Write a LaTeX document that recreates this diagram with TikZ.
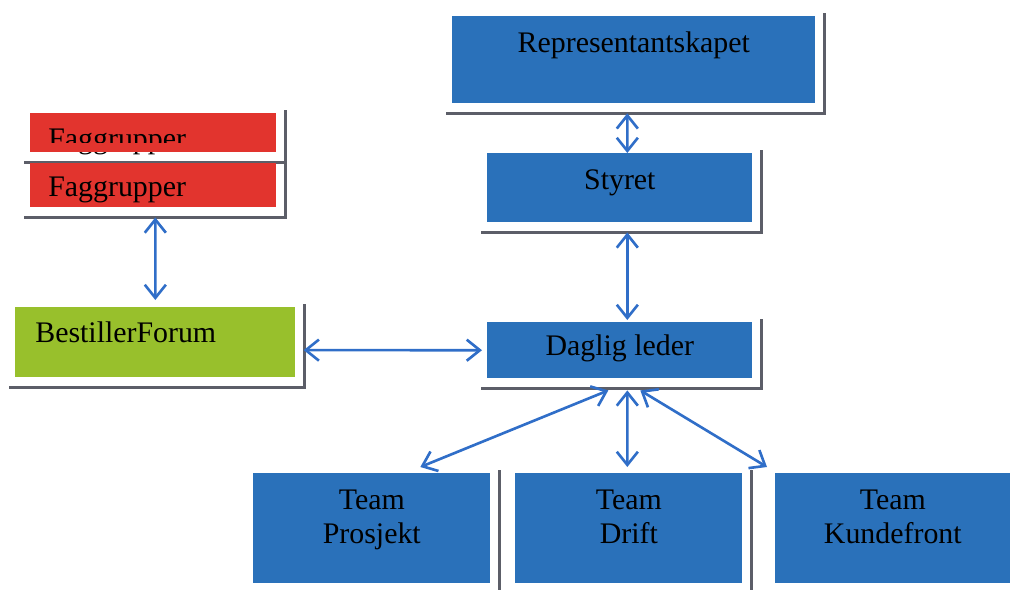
\documentclass[tikz,border=0pt]{standalone}
\usepackage{fontspec}
\setmainfont{Liberation Serif}
\usetikzlibrary{arrows.meta}
\definecolor{boxblue}{RGB}{42,113,186}
\definecolor{fgred}{RGB}{226,52,46}
\definecolor{bfgreen}{RGB}{152,192,44}
\definecolor{framegray}{RGB}{92,94,104}
\definecolor{arrowblue}{RGB}{48,110,200}
% frame line under and right of a box
\newcommand\orgframe[1]{\draw[frame] ([shift={(-6,10)}]#1.south west) -| ([shift={(9,-3)}]#1.north east);}
\begin{document}
\begin{tikzpicture}[x=0.02cm,y=-0.02cm,
    box/.style={anchor=north west,inner sep=0pt,font=\fontsize{17}{19.3}\selectfont},
    bluebox/.style={box,fill=boxblue},
    leftbox/.style={box,inner xsep=#1,align=left},
    frame/.style={draw=framegray,line width=1.5pt},
    arr/.style={<->,draw=arrowblue,line width=1.5pt,>={Straight Barb[length=7.5pt,width=12pt]}}]
    \useasboundingbox (0,0) rectangle (1011,589);
    \clip (0,0) rectangle (1011,589);
    % top chain
    \node[bluebox,minimum width=7.26cm,text height=20.4pt,text depth=28.9pt] (repr) at (452,16) {Representantskapet};
    \orgframe{repr}
    \node[bluebox,minimum width=5.3cm,text height=20.4pt,text depth=18.7pt] (styret) at (487,153) {Styret};
    \orgframe{styret}
    \node[bluebox,minimum width=5.3cm,text height=18.7pt,text depth=13pt] (leder) at (487,322) {Daglig leder};
    \orgframe{leder}
    % left side
    \node[leftbox=0.36cm,fill=fgred,text width=4.2cm,text height=19.8pt,text depth=2.3pt] (fag1) at (30,113) {Faggrupper};
    \fill[fgred] (30,143) rectangle (276,152);
    \orgframe{fag1}
    \node[leftbox=0.36cm,fill=fgred,text width=4.2cm,text height=18.7pt,text depth=6.2pt] (fag2) at (30,163) {Faggrupper};
    \orgframe{fag2}
    \node[leftbox=0.4cm,fill=bfgreen,text width=4.8cm,text height=19.8pt,text depth=19.8pt] (forum) at (15,307) {BestillerForum};
    \orgframe{forum}
    % teams
    \node[bluebox,minimum width=4.74cm,text height=20.4pt,text depth=42pt] (prosjekt) at (253,473) {\begin{tabular}[t]{@{}c@{}}Team\\Prosjekt\end{tabular}};
    \orgframe{prosjekt}
    \node[bluebox,minimum width=4.54cm,text height=20.4pt,text depth=42pt] (drift) at (515,473) {\begin{tabular}[t]{@{}c@{}}Team\\Drift\end{tabular}};
    \orgframe{drift}
    \node[bluebox,minimum width=4.7cm,text height=20.4pt,text depth=42pt] (kunde) at (775,473) {\begin{tabular}[t]{@{}c@{}}Team\\Kundefront\end{tabular}};
    % connectors
    \draw[arr] ([shift={(-6.5,10)}]repr.south) -- ([shift={(7.5,0)}]styret.north);
    \draw[arr] ([shift={(7.5,10)}]styret.south) -- ([shift={(7.5,-2)}]leder.north);
    \draw[arr] ([shift={(2,10)}]fag2.south) -- ([shift={(0,-7)}]forum.north);
    \draw[arr] ([shift={(8,8)}]forum.east) -- ([shift={(-5,0)}]leder.west);
    \draw[arr] ([shift={(-11.5,12)}]leder.south) -- ([shift={(48.5,-6)}]prosjekt.north);
    \draw[arr] ([shift={(7.5,12)}]leder.south) -- ([shift={(-1.5,-6)}]drift.north);
    \draw[arr] ([shift={(20.5,12)}]leder.south) -- ([shift={(-8,-6)}]kunde.north west);
\end{tikzpicture}
\end{document}
